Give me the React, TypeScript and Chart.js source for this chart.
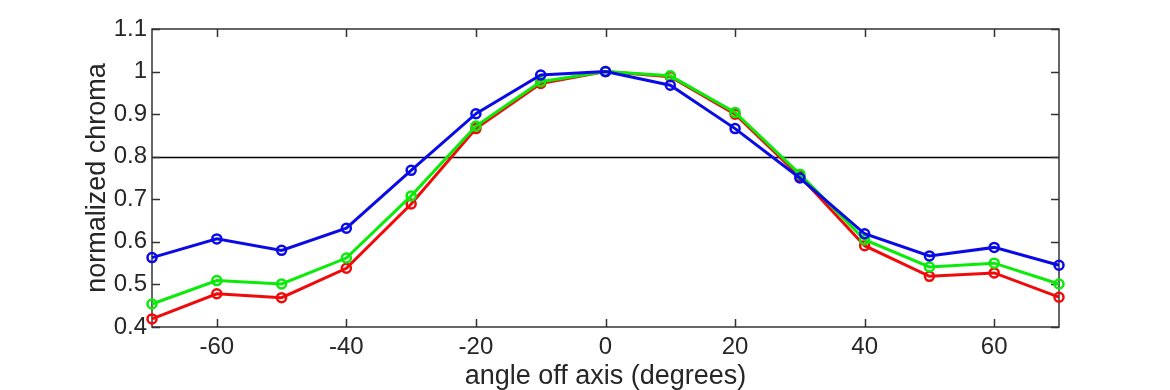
import React, { useEffect, useRef } from "react";
import { Chart, registerables } from "chart.js";

Chart.register(...registerables);

const angles = [-70, -60, -50, -40, -30, -20, -10, 0, 10, 20, 30, 40, 50, 60, 70];
const redValues = [0.419, 0.478, 0.469, 0.538, 0.689, 0.866, 0.972, 1.0, 0.988, 0.9, 0.754, 0.591, 0.519, 0.527, 0.47];
const greenValues = [0.454, 0.509, 0.501, 0.562, 0.708, 0.872, 0.976, 1.0, 0.99, 0.904, 0.759, 0.605, 0.541, 0.55, 0.501];
const blueValues = [0.563, 0.607, 0.58, 0.632, 0.768, 0.901, 0.992, 1.0, 0.968, 0.866, 0.75, 0.619, 0.567, 0.587, 0.545];
const xTicks = [-60, -40, -20, 0, 20, 40, 60];
const yTicks = [0.4, 0.5, 0.6, 0.7, 0.8, 0.9, 1.0, 1.1];
const thresholdValue = 0.8;

const FONT = "'Liberation Sans', Arial, Helvetica, sans-serif";
const AXIS_COLOR = "#333333";
const TEXT_COLOR = "#262626";

const framePlugin = {
  id: "frame",
  beforeDatasetsDraw(chart: any) {
    const { ctx, chartArea } = chart;
    const xs = chart.scales.x;
    const ys = chart.scales.y;
    const { left, right, top, bottom } = chartArea;
    ctx.save();
    ctx.strokeStyle = "#000000";
    ctx.lineWidth = 1.5;
    const yt = Math.round(ys.getPixelForValue(thresholdValue)) + 0.5;
    ctx.beginPath();
    ctx.moveTo(left, yt);
    ctx.lineTo(right, yt);
    ctx.stroke();
    ctx.strokeStyle = AXIS_COLOR;
    ctx.lineWidth = 1.5;
    ctx.strokeRect(left, top, right - left, bottom - top);
    const tl = 8;
    ctx.beginPath();
    xTicks.forEach((v) => {
      const px = Math.round(xs.getPixelForValue(v)) + 0.5;
      ctx.moveTo(px, bottom);
      ctx.lineTo(px, bottom - tl);
      ctx.moveTo(px, top);
      ctx.lineTo(px, top + tl);
    });
    yTicks.forEach((v) => {
      const py = Math.round(ys.getPixelForValue(v)) + 0.5;
      ctx.moveTo(left, py);
      ctx.lineTo(left + tl, py);
      ctx.moveTo(right, py);
      ctx.lineTo(right - tl, py);
    });
    ctx.stroke();
    ctx.restore();
  },
};

function makeSet(label: string, data: number[], color: string, order: number) {
  return {
    label,
    order,
    data: angles.map((a, i) => ({ x: a, y: data[i] })),
    borderColor: color,
    backgroundColor: "rgba(0,0,0,0)",
    borderWidth: 3,
    pointRadius: 4.5,
    pointBorderWidth: 2.5,
    pointBorderColor: color,
    pointBackgroundColor: "rgba(0,0,0,0)",
    pointStyle: "circle",
    tension: 0,
    clip: false as any,
  };
}

export default function App() {
  const ref = useRef<HTMLCanvasElement | null>(null);
  useEffect(() => {
    document.body.style.margin = "0";
    if (!ref.current) return;
    const chart = new Chart(ref.current, {
      type: "line",
      data: {
        datasets: [
          makeSet("red", redValues, "#f00a0a", 2),
          makeSet("green", greenValues, "#0aeb0a", 1),
          makeSet("blue", blueValues, "#0a0ae6", 0),
        ],
      },
      options: {
        animation: false,
        responsive: false,
        devicePixelRatio: 1,
        layout: { padding: { left: 81, right: 111, top: 29, bottom: 0 } },
        plugins: { legend: { display: false }, tooltip: { enabled: false } },
        scales: {
          x: {
            type: "linear",
            min: -70,
            max: 70,
            afterBuildTicks: (s: any) => {
              s.ticks = xTicks.map((v) => ({ value: v }));
            },
            afterFit: (s: any) => {
              s.height = 63;
            },
            grid: { display: false, drawTicks: false },
            border: { display: false },
            ticks: {
              color: TEXT_COLOR,
              font: { family: FONT, size: 24 },
              padding: 6,
              maxRotation: 0,
            },
            title: {
              display: true,
              text: "angle off axis (degrees)",
              color: TEXT_COLOR,
              font: { family: FONT, size: 27 },
              padding: { top: 0, bottom: -3 },
            },
          },
          y: {
            type: "linear",
            min: 0.4,
            max: 1.1,
            afterBuildTicks: (s: any) => {
              s.ticks = yTicks.map((v) => ({ value: v }));
            },
            afterFit: (s: any) => {
              s.width = 71;
            },
            grid: { display: false, drawTicks: false },
            border: { display: false },
            ticks: {
              color: TEXT_COLOR,
              font: { family: FONT, size: 24 },
              padding: 5,
              callback: (v: any) => String(Math.round(Number(v) * 10) / 10),
            },
            title: {
              display: true,
              text: "normalized chroma",
              color: TEXT_COLOR,
              font: { family: FONT, size: 27 },
              padding: { top: 0, bottom: 0 },
            },
          },
        },
      },
      plugins: [framePlugin],
    });
    return () => chart.destroy();
  }, []);
  return (
    <div style={{ width: 1170, height: 390, background: "#ffffff" }}>
      <canvas ref={ref} width={1170} height={390} style={{ display: "block" }} />
    </div>
  );
}
